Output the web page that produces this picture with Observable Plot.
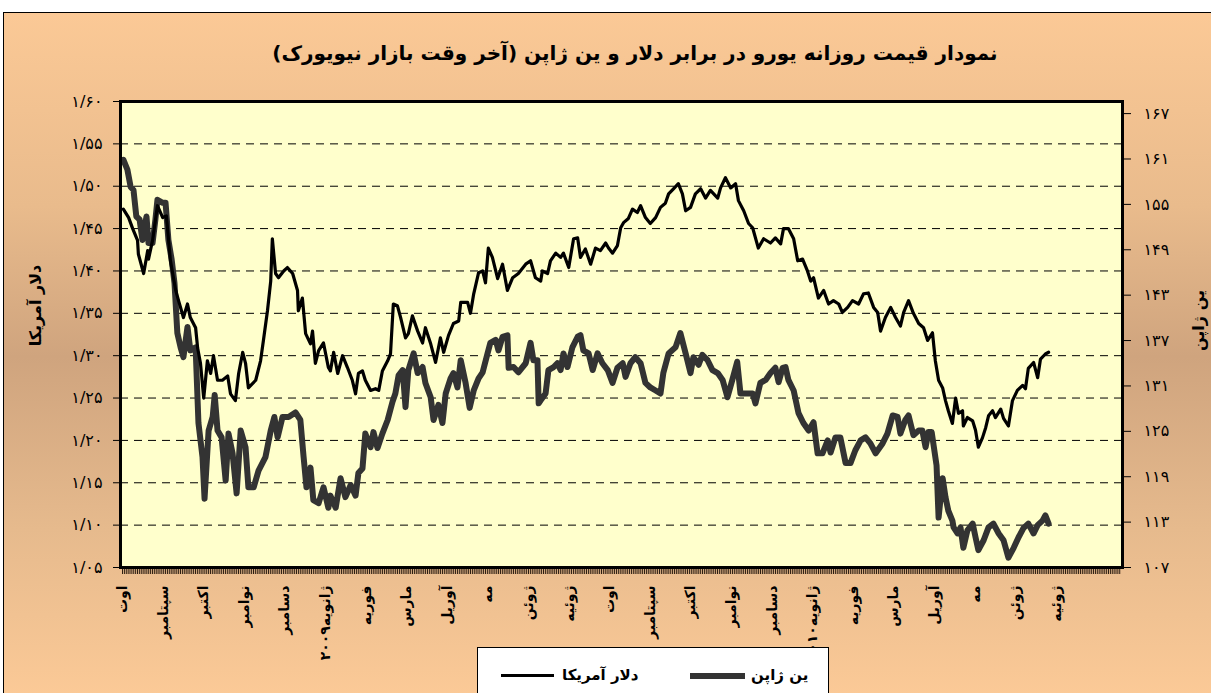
<!DOCTYPE html>
<html><head><meta charset="utf-8">
<script src="https://cdn.jsdelivr.net/npm/d3@7"></script>
<script src="https://cdn.jsdelivr.net/npm/@observablehq/plot@0.6"></script>
<style>
html,body{margin:0;padding:0;}
body{width:1211px;height:693px;background:#fff;overflow:hidden;position:relative;font-family:"DejaVu Sans",sans-serif;}
#bg{position:absolute;left:3px;top:12px;width:1215px;height:690px;border:1px solid #000;box-sizing:border-box;
 background:linear-gradient(to bottom,#FBC996 0%,#E9BB8C 28%,#CFA47E 50%,#E6BA8D 75%,#FCCA97 100%);}
#title{position:absolute;top:41px;left:0;width:1270px;text-align:center;font-weight:bold;font-size:20px;direction:rtl;color:#000;}
#chart{position:absolute;left:0;top:85px;}
#legend{position:absolute;left:477px;top:647px;width:352px;height:60px;background:#fff;border:1px solid #000;box-sizing:border-box;}
.lg-line{position:absolute;}
.lg-text{position:absolute;top:17px;font-weight:bold;font-size:15px;line-height:20px;direction:rtl;white-space:nowrap;}
</style></head>
<body>
<div id="bg"></div>
<div id="title">نمودار قیمت روزانه یورو در برابر دلار و ین ژاپن (آخر وقت بازار نیویورک)</div>
<div id="chart"></div>
<div id="legend">
  <div class="lg-line" style="left:23px;top:26px;width:53px;height:3px;background:#000;"></div>
  <div class="lg-text" style="left:84px;">دلار آمریکا</div>
  <div class="lg-line" style="left:212px;top:25px;width:55px;height:6px;background:#333;"></div>
  <div class="lg-text" style="left:273px;">ین ژاپن</div>
</div>
<script>
const months = ["اوت","سپتامبر","اکتبر","نوامبر","دسامبر","ژانویه۲۰۰۹","فوریه","مارس","آوریل","مه","ژوئن","ژوئیه",
  "اوت","سپتامبر","اکتبر","نوامبر","دسامبر","ژانویه۲۰۱۰","فوریه","مارس","آوریل","مه","ژوئن","ژوئیه"];
const usdTicks = [1.05,1.10,1.15,1.20,1.25,1.30,1.35,1.40,1.45,1.50,1.55,1.60];
const jpyTicks = [107,113,119,125,131,137,143,149,155,161,167];
const usdDomain = [1.05, 1.60];
const jpyDomain = [107, 168.6];

// [months since start of Aug 2008, EUR/USD]
const usdPoints = [[0.02,1.473],[0.15,1.463],[0.25,1.450],[0.37,1.436],[0.39,1.420],[0.52,1.397],[0.62,1.424],[0.64,1.414],[0.74,1.436],[0.86,1.477],[0.99,1.463],[1.08,1.465],[1.18,1.412],[1.31,1.377],[1.38,1.365],[1.50,1.345],[1.60,1.361],[1.67,1.345],[1.80,1.333],[1.85,1.309],[1.92,1.291],[2.00,1.250],[2.09,1.294],[2.17,1.279],[2.24,1.300],[2.34,1.271],[2.46,1.271],[2.59,1.276],[2.66,1.255],[2.78,1.247],[2.86,1.279],[2.96,1.304],[3.03,1.291],[3.10,1.262],[3.28,1.271],[3.40,1.294],[3.47,1.318],[3.57,1.353],[3.65,1.388],[3.69,1.438],[3.77,1.397],[3.84,1.392],[3.97,1.400],[4.06,1.404],[4.19,1.397],[4.31,1.377],[4.33,1.353],[4.43,1.368],[4.51,1.326],[4.63,1.314],[4.68,1.329],[4.75,1.291],[4.83,1.306],[4.95,1.315],[5.07,1.286],[5.12,1.282],[5.20,1.304],[5.30,1.279],[5.42,1.300],[5.54,1.286],[5.66,1.271],[5.74,1.255],[5.81,1.279],[5.91,1.282],[5.98,1.271],[6.11,1.259],[6.23,1.261],[6.31,1.259],[6.40,1.282],[6.53,1.294],[6.60,1.302],[6.67,1.361],[6.77,1.359],[6.85,1.345],[6.97,1.321],[7.04,1.326],[7.14,1.347],[7.27,1.329],[7.39,1.315],[7.46,1.333],[7.59,1.314],[7.71,1.292],[7.83,1.321],[7.91,1.304],[8.03,1.324],[8.15,1.338],[8.28,1.341],[8.33,1.363],[8.50,1.363],[8.57,1.350],[8.65,1.373],[8.77,1.398],[8.87,1.400],[8.94,1.386],[9.01,1.427],[9.11,1.416],[9.24,1.391],[9.36,1.408],[9.48,1.377],[9.61,1.392],[9.75,1.397],[9.93,1.408],[10.05,1.412],[10.17,1.392],[10.30,1.388],[10.34,1.400],[10.47,1.397],[10.54,1.412],[10.67,1.421],[10.79,1.416],[10.86,1.421],[10.99,1.404],[11.11,1.438],[11.21,1.439],[11.28,1.416],[11.40,1.426],[11.53,1.408],[11.65,1.427],[11.77,1.424],[11.90,1.433],[11.97,1.427],[12.07,1.421],[12.19,1.430],[12.27,1.451],[12.34,1.457],[12.46,1.462],[12.56,1.473],[12.68,1.469],[12.76,1.477],[12.88,1.463],[13.00,1.456],[13.13,1.463],[13.25,1.475],[13.37,1.480],[13.45,1.491],[13.57,1.497],[13.69,1.503],[13.79,1.491],[13.87,1.471],[13.99,1.475],[14.11,1.491],[14.24,1.497],[14.36,1.486],[14.48,1.495],[14.66,1.486],[14.73,1.498],[14.85,1.510],[14.98,1.498],[15.10,1.503],[15.17,1.483],[15.30,1.471],[15.42,1.456],[15.52,1.451],[15.66,1.427],[15.79,1.438],[15.96,1.433],[16.08,1.439],[16.21,1.432],[16.28,1.450],[16.40,1.450],[16.53,1.438],[16.63,1.412],[16.75,1.414],[16.87,1.400],[16.95,1.388],[17.02,1.392],[17.14,1.368],[17.27,1.377],[17.39,1.361],[17.51,1.365],[17.64,1.361],[17.73,1.351],[17.86,1.357],[17.98,1.365],[18.13,1.361],[18.25,1.373],[18.37,1.374],[18.50,1.357],[18.60,1.351],[18.67,1.329],[18.79,1.345],[18.92,1.357],[19.04,1.345],[19.16,1.335],[19.24,1.351],[19.36,1.365],[19.48,1.350],[19.61,1.338],[19.73,1.333],[19.83,1.318],[19.95,1.327],[20.02,1.294],[20.10,1.271],[20.20,1.262],[20.27,1.247],[20.34,1.235],[20.44,1.220],[20.52,1.250],[20.59,1.232],[20.69,1.235],[20.71,1.217],[20.81,1.227],[20.94,1.223],[21.01,1.212],[21.08,1.192],[21.18,1.203],[21.26,1.215],[21.33,1.229],[21.43,1.235],[21.50,1.227],[21.63,1.237],[21.70,1.226],[21.82,1.217],[21.92,1.247],[22.04,1.259],[22.17,1.265],[22.24,1.261],[22.31,1.285],[22.44,1.292],[22.54,1.274],[22.61,1.296],[22.73,1.302],[22.81,1.304]];

// [months since start of Aug 2008, EUR/JPY]
const jpyPoints = [[0.02,160.9],[0.12,159.6],[0.20,157.3],[0.27,156.9],[0.34,153.4],[0.42,153.0],[0.49,150.3],[0.59,153.4],[0.64,149.9],[0.74,149.9],[0.81,153.0],[0.86,155.6],[0.99,155.2],[1.06,155.2],[1.13,150.3],[1.21,147.7],[1.28,144.6],[1.35,138.0],[1.43,136.1],[1.50,134.8],[1.60,138.8],[1.67,135.7],[1.80,136.1],[1.87,126.1],[1.97,121.6],[2.02,116.1],[2.12,125.1],[2.22,126.9],[2.27,129.8],[2.34,125.1],[2.44,124.2],[2.54,118.5],[2.61,124.7],[2.71,122.1],[2.81,116.8],[2.91,125.1],[3.03,122.9],[3.10,117.6],[3.23,117.6],[3.35,119.8],[3.52,121.6],[3.65,125.1],[3.74,126.9],[3.82,124.2],[3.94,126.9],[4.09,126.9],[4.26,127.5],[4.38,126.5],[4.46,121.6],[4.53,117.6],[4.63,120.2],[4.70,115.9],[4.83,115.5],[4.95,117.6],[5.07,114.9],[5.12,116.5],[5.25,114.9],[5.37,118.8],[5.49,116.3],[5.62,117.9],[5.74,116.5],[5.81,119.5],[5.91,120.1],[5.98,124.7],[6.11,122.9],[6.18,124.9],[6.28,122.8],[6.40,124.7],[6.53,126.5],[6.65,128.9],[6.72,130.0],[6.80,132.4],[6.90,133.1],[6.97,128.2],[7.04,133.1],[7.17,135.3],[7.27,132.7],[7.39,133.5],[7.46,131.4],[7.59,129.5],[7.66,126.5],[7.78,128.5],[7.88,126.1],[7.96,130.0],[8.08,132.0],[8.15,132.7],[8.25,130.8],[8.33,134.4],[8.45,131.4],[8.55,128.1],[8.65,130.4],[8.77,132.0],[8.87,132.8],[8.99,135.3],[9.06,136.7],[9.19,137.1],[9.26,135.7],[9.36,137.5],[9.48,137.7],[9.51,133.4],[9.63,133.5],[9.75,132.8],[9.93,134.0],[10.05,136.7],[10.12,134.4],[10.22,134.4],[10.25,128.7],[10.30,129.1],[10.42,130.0],[10.49,133.1],[10.62,133.5],[10.71,134.0],[10.79,133.1],[10.86,135.3],[10.96,133.5],[11.08,136.1],[11.21,137.5],[11.28,137.7],[11.35,135.7],[11.48,135.3],[11.58,133.1],[11.70,135.3],[11.82,134.0],[11.95,133.1],[12.07,131.4],[12.19,133.4],[12.32,134.0],[12.39,132.2],[12.51,134.0],[12.63,134.8],[12.76,134.0],[12.88,131.4],[13.00,130.8],[13.13,130.4],[13.25,130.0],[13.32,132.7],[13.45,135.3],[13.62,136.1],[13.74,138.0],[13.87,135.3],[13.99,132.7],[14.06,134.8],[14.19,133.8],[14.28,135.1],[14.41,134.4],[14.53,133.1],[14.66,132.7],[14.78,131.8],[14.90,129.5],[15.02,131.8],[15.14,134.2],[15.22,130.0],[15.34,130.0],[15.52,130.0],[15.59,128.7],[15.71,131.4],[15.84,131.8],[15.96,132.7],[16.08,133.4],[16.16,131.5],[16.26,133.4],[16.33,133.5],[16.40,131.8],[16.53,130.4],[16.65,127.4],[16.77,126.1],[16.90,125.1],[17.02,126.2],[17.12,122.1],[17.24,122.1],[17.37,123.8],[17.44,122.2],[17.56,124.2],[17.68,124.2],[17.81,120.8],[17.93,120.8],[18.05,122.5],[18.18,123.8],[18.30,124.2],[18.42,123.4],[18.55,122.1],[18.72,123.4],[18.84,124.7],[18.97,127.1],[19.09,126.9],[19.16,124.7],[19.28,126.5],[19.36,127.1],[19.48,124.5],[19.61,125.1],[19.70,125.1],[19.78,122.9],[19.85,124.9],[19.93,124.9],[20.05,120.5],[20.10,113.6],[20.20,118.8],[20.27,116.3],[20.34,114.5],[20.44,113.2],[20.47,112.3],[20.57,111.5],[20.64,112.3],[20.71,109.6],[20.81,111.9],[20.94,112.8],[21.01,111.0],[21.08,109.3],[21.21,110.6],[21.33,112.3],[21.45,112.8],[21.58,111.5],[21.70,110.6],[21.82,108.3],[21.95,109.6],[22.07,111.0],[22.19,112.2],[22.31,112.8],[22.44,111.5],[22.54,112.6],[22.66,113.2],[22.73,113.9],[22.81,112.8]];

const faDigits = "۰۱۲۳۴۵۶۷۸۹";
const fa = s => String(s).replace(/\d/g, d => faDigits[d]).replace(".", "/");
// map yen onto the left (dollar) scale so both share one y scale
const yenToLeft = v => usdDomain[0] + (v - jpyDomain[0]) / (jpyDomain[1] - jpyDomain[0]) * (usdDomain[1] - usdDomain[0]);
const leftToYen = v => jpyDomain[0] + (v - usdDomain[0]) / (usdDomain[1] - usdDomain[0]) * (jpyDomain[1] - jpyDomain[0]);

const combTicks = d3.range(0, 24.6, 1 / 21.7);
const font = "DejaVu Sans";

const chart = Plot.plot({
  width: 1211,
  height: 608,
  marginLeft: 120,
  marginRight: 89,
  marginTop: 16,
  marginBottom: 126,
  style: {background: "transparent", fontFamily: font, color: "#000", overflow: "visible"},
  x: {domain: [-0.05, 24.63], axis: null},
  y: {domain: usdDomain, axis: null},
  marks: [
    Plot.frame({fill: "#FFFFCC", stroke: null}),
    Plot.ruleY(usdTicks.slice(1, -1), {stroke: "#000", strokeWidth: 1, strokeDasharray: "8,6"}),
    Plot.line(jpyPoints, {x: d => d[0], y: d => yenToLeft(d[1]), stroke: "#333333", strokeWidth: 6, strokeLinejoin: "round", strokeLinecap: "round"}),
    Plot.line(usdPoints, {x: d => d[0], y: d => d[1], stroke: "#000", strokeWidth: 3.2, strokeLinejoin: "round", strokeLinecap: "round"}),
    Plot.ruleX(combTicks, {x: d => d, y1: usdDomain[0], y2: usdDomain[0], insetBottom: -7, stroke: "#2a1c10", strokeWidth: 1}),
    Plot.frame({stroke: "#000", strokeWidth: 3}),
    Plot.axisY({anchor: "left", ticks: usdTicks, tickSize: 7, tickPadding: 11, tickFormat: d => fa(d.toFixed(2)), fontSize: 16, label: null}),
    Plot.axisY({anchor: "right", ticks: jpyTicks.map(yenToLeft), tickSize: 8, tickPadding: 13, tickFormat: d => fa(Math.round(leftToYen(d))), fontSize: 16, label: null}),
    Plot.text(months, {x: (d, i) => i, frameAnchor: "bottom", dy: 18, rotate: -90, textAnchor: "end", lineAnchor: "middle", fontWeight: "bold", fontSize: 14}),
    Plot.text(["دلار آمریکا"], {frameAnchor: "left", dx: -85, dy: -29, rotate: -90, textAnchor: "middle", lineAnchor: "middle", fontWeight: "bold", fontSize: 16}),
    Plot.text(["ین ژاپن"], {frameAnchor: "right", dx: 76, dy: -14, rotate: -90, textAnchor: "middle", lineAnchor: "middle", fontWeight: "bold", fontSize: 16})
  ]
});
document.getElementById("chart").appendChild(chart);
</script>
</body></html>
